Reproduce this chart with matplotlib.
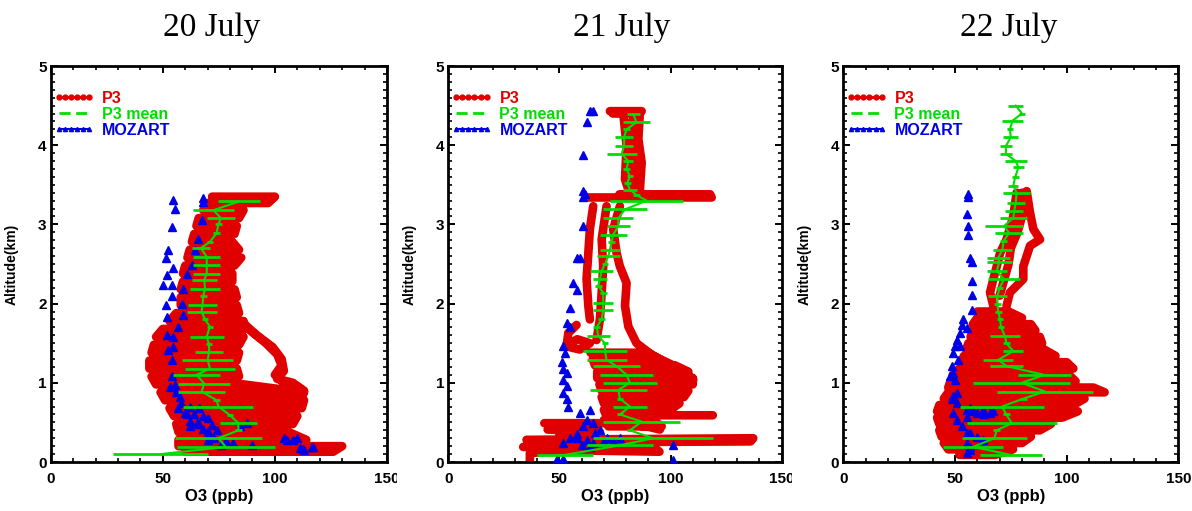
import numpy as np
import matplotlib
matplotlib.use("Agg")
import matplotlib.pyplot as plt
from matplotlib.lines import Line2D
from matplotlib.transforms import Bbox, TransformedBbox

nan = np.nan

RED = "#e00000"
GREEN = "#00dd00"
BLUE = "#0000e6"

days = ["20 July", "21 July", "22 July"]

# ---- 20 July ----
p3_o3_jul20 = [72, 100, 97, 70, 68, 86, 84, 66, 65, 83, 82, 64, 63, 81, 84, 62, 61, 85,
               82, 60, 59, 81, 81, 59, 58, 82, 83, 58, 58, 83, 84, 56, 53, 86, 87, 50,
               47, 86, 84, 46, 45, 84, 83, 44, 44, 83, 84, 45, 47, 86, 113, 49, 51, 113,
               112, 53, 55, 110, 108, 56, 57, 106, 114, 57, 57, 130, 126, 60,
               nan, 86, 92, 99, 103, 104, 101, 108, 113, 112,
               nan, 89, 96, 101, 103, 100, 104]
p3_alt_jul20 = [3.35, 3.35, 3.27, 3.27, 3.18, 3.18, 3.08, 3.08, 2.98, 2.98, 2.88, 2.88,
                2.78, 2.78, 2.68, 2.68, 2.58, 2.58, 2.48, 2.48, 2.38, 2.38, 2.28, 2.28,
                2.18, 2.18, 2.08, 2.08, 1.98, 1.98, 1.88, 1.88, 1.78, 1.78, 1.68, 1.68,
                1.58, 1.58, 1.48, 1.48, 1.38, 1.38, 1.28, 1.28, 1.18, 1.18, 1.08, 1.08,
                0.98, 0.98, 0.88, 0.88, 0.78, 0.78, 0.68, 0.68, 0.58, 0.58, 0.48, 0.48,
                0.38, 0.38, 0.28, 0.28, 0.20, 0.20, 0.13, 0.13,
                nan, 1.75, 1.60, 1.45, 1.30, 1.15, 1.05, 1.00, 0.90, 0.80,
                nan, 1.66, 1.50, 1.36, 1.22, 1.10, 1.00]

moz_o3_jul20 = [54.7, 55.4, 54.0, 52.5, 51.4, 54.7, 51.7, 50.2, 54.0, 54.0, 51.4, 51.7,
                51.7, 52.5, 54.0, 54.0, 55.4, 57.7, 56.9, 60.6, 65.1, 62.1, 70.3, 84.4,
                87.4, 70.3, 81.5, 105.3, 109.7, 112.7, 116.4,
                68.1, 68.1, 67.3, 65.8, 64.4, 62.9, 60.6, 59.2, 58.4, 59.2, 56.9, 54.7, 54.7,
                53, 56, 58, 62, 66, 60, 64, 68, 70, 62, 66, 72, 68, 74, 70, 73, 78, 76, 90,
                104, 108, 111, 113, 117]
moz_alt_jul20 = [3.31, 3.20, 2.97, 2.68, 2.57, 2.45, 2.36, 2.23, 2.23, 2.09, 1.98, 1.83,
                 1.60, 1.41, 1.29, 1.08, 0.97, 0.82, 0.68, 0.61, 0.49, 0.45, 0.39, 0.45,
                 0.49, 0.28, 0.24, 0.28, 0.30, 0.17, 0.19,
                 3.33, 3.28, 3.06, 2.82, 2.68, 2.49, 2.38, 2.19, 2.00, 1.85, 1.71, 1.58, 1.45,
                 0.95, 0.88, 0.75, 0.70, 0.68, 0.62, 0.60, 0.58, 0.55, 0.52, 0.48, 0.47, 0.42,
                 0.40, 0.35, 0.30, 0.26, 0.22, 0.22, 0.30, 0.28, 0.18, 0.15, 0.19]

mean_alt_jul20 = [0.10, 0.19, 0.30, 0.40, 0.49, 0.59, 0.70, 0.78, 0.89, 0.99, 1.10, 1.18,
                  1.29, 1.39, 1.49, 1.58, 1.71, 1.80, 1.90, 1.98, 2.09, 2.19, 2.30, 2.38,
                  2.49, 2.59, 2.70, 2.78, 2.89, 3.00, 3.08, 3.18, 3.29]
mean_o3_jul20 = [49.1, 78.1, 74.8, 83.7, 83.7, 80.0, 74.8, 74.0, 67.3, 68.5, 65.1, 71.0,
                 70.0, 70.7, 70.6, 69.6, 71.0, 68.8, 67.3, 67.7, 68.0, 68.8, 68.5, 69.6,
                 69.6, 69.6, 67.0, 71.0, 74.0, 74.8, 75.9, 72.6, 84.1]
mean_sd_jul20 = [21.2, 21.9, 19.4, 1.5, 8.2, 1.5, 15.6, 1.5, 10.4, 11.6, 10.4, 11.0,
                 11.5, 6.3, 1.5, 7.5, 1.5, 1.5, 6.7, 6.3, 1.5, 6.7, 5.5, 6.0,
                 6.0, 6.0, 4.1, 1.5, 1.5, 1.5, 6.3, 9.0, 9.3]

# ---- 21 July ----
p3_o3_jul21 = [72.7, 87.0, 86, 74, nan,
               78.7, 80.2, 79.5, 81.7, nan,
               86.2, 85.5, 87.0, 86.2, nan,
               82.5, 83.2, 84.0, nan,
               62.2, 118.5, 117.8, 77, nan,
               65.2, 63.7, 63.0, 62.2, 63.0, 63.7, nan,
               77.2, 74.2, 75.7, 77.2, 80.2, 79.5, 81.0, 84.7, 92.2, 105.7, 110.2, nan,
               71.2, 69.0, 69.7, 69.0, 68.2, 66.7, nan,
               57.7, 54.0, 53.2, 59.2, 63.7, 58, 55, nan,
               64, 90, 95, 65, 66, 102, 108, 67, 67, 110, 110, 68, 69, 108, 106, 69,
               70, 104, 100, 70, 71, 119, nan,
               70, 92, 96, 72, nan,
               43.2, 71.2, 89.2, 95.2, nan,
               44.7, 68.2, 62, 50, nan,
               35.2, 137.2, 136, 60, nan,
               33.7, 92.2, 95, 50, 36.7, 36.7]
p3_alt_jul21 = [4.43, 4.43, 4.40, 4.40, nan,
                4.41, 3.99, 3.57, 3.38, nan,
                4.41, 4.08, 3.78, 3.44, nan,
                4.30, 3.78, 3.44, nan,
                3.34, 3.34, 3.38, 3.38, nan,
                3.23, 2.94, 2.64, 2.31, 1.97, 1.80, nan,
                3.23, 2.94, 2.64, 2.47, 2.26, 1.97, 1.71, 1.50, 1.34, 1.16, 1.04, nan,
                3.23, 2.81, 2.47, 2.14, 1.80, 1.54, nan,
                1.73, 1.63, 1.46, 1.42, 1.50, 1.55, 1.50, nan,
                1.38, 1.38, 1.30, 1.30, 1.22, 1.22, 1.14, 1.14, 1.06, 1.06, 0.98, 0.98,
                0.90, 0.90, 0.82, 0.82, 0.74, 0.74, 0.66, 0.66, 0.59, 0.59, nan,
                0.53, 0.53, 0.45, 0.45, nan,
                0.49, 0.49, 0.45, 0.41, nan,
                0.41, 0.38, 0.35, 0.36, nan,
                0.28, 0.30, 0.26, 0.25, nan,
                0.19, 0.19, 0.13, 0.15, 0.11, 0.02]

moz_o3_jul21 = [63.7, 65.2, 62.2, 60.7, 60.7, 61.5, 60.7, 60.7, 57.7, 59.2, 56.2, 57.7,
                54.7, 53.3, 54.7, 51.7, 52.5, 51.0, 51.7, 53.3, 51.7, 53.3, 51.7, 53.3,
                54.0, 59.2, 63.7, 62.2, 65.2, 60.7, 68.2, 57.7, 54.7, 62.2, 65.2, 51.7,
                71.2, 77.2, 63.7, 101.2, 48.7, 51.7, 101.2, 58, 66, 70, 74, 60]
moz_alt_jul21 = [4.43, 4.43, 4.29, 3.87, 3.42, 3.38, 3.34, 2.98, 2.58, 2.58, 2.26, 2.17,
                 1.95, 1.75, 1.71, 1.46, 1.38, 1.26, 1.17, 1.13, 1.04, 0.96, 0.87, 0.79,
                 0.70, 0.62, 0.66, 0.53, 0.49, 0.45, 0.41, 0.30, 0.30, 0.28, 0.24, 0.24,
                 0.30, 0.30, 0.19, 0.21, 0.04, 0.04, 0.02, 0.35, 0.36, 0.26, 0.27, 0.22]

mean_alt_jul21 = [0.09, 0.21, 0.30, 0.40, 0.51, 0.60, 0.70, 0.80, 0.91, 1.00, 1.10, 1.21,
                  1.29, 1.40, 1.50, 1.59, 1.70, 1.80, 1.92, 2.01, 2.14, 2.22, 2.31, 2.41,
                  2.50, 2.60, 2.68, 2.78, 2.87, 2.98, 3.08, 3.19, 3.30, 3.37, 3.44, 3.52,
                  3.61, 3.70, 3.80, 3.89, 3.99, 4.10, 4.20, 4.29, 4.39]
mean_o3_jul21 = [52.5, 77.2, 92.2, 81.7, 87.0, 77.2, 81.7, 77.2, 76.5, 81.7, 80.2, 75.7,
                 71.2, 70.5, 70.5, 67.5, 66.7, 69.0, 69.7, 69.7, 69.7, 67.5, 68.2, 69.0,
                 70.5, 72.0, 72.7, 73.5, 74.2, 76.5, 76.5, 79.5, 89.2, 84.7, 81.7, 80.5,
                 81.7, 80.2, 81.0, 78.0, 79.1, 79.1, 80.2, 84.7, 83.2]
mean_sd_jul21 = [12.7, 15.0, 27.0, 1.5, 17.2, 1.5, 7.5, 1.5, 12.7, 12.0, 12.0, 10.5,
                 9.0, 9.7, 1.5, 5.2, 1.5, 1.5, 4.5, 4.5, 1.5, 1.5, 3.0, 5.2,
                 1.5, 5.2, 4.5, 1.5, 6.0, 5.2, 6.7, 9.7, 16.5, 1.5, 3.0, 1.5,
                 1.5, 1.5, 2.3, 6.7, 4.1, 4.1, 1.5, 6.0, 3.0]

# ---- 22 July ----
p3_o3_jul22 = [82.1, 83.6, 85.1, 88.1, 83.6, 80.6, 80.6, 74.6, 73.1, nan,
               77.6, 76.1, 73.1, 70.2, 68.7, 67.2, 65.7, 67.2, nan,
               80, 80, 78, 75, 74, 72, 70, nan,
               60, 74, 80, 60, 58, 84, 86, 58, 57, 88, 89, 56, 55, 90, 95, 54,
               53, 100, 103, 52, 49, 101, 104, 48, 47, 112, 117, 47, 45, 108, 103, 43,
               42, 105, 98, 42, 43, 93, 88, 43, 44, 84, 80, 45, 47, 76, 68, 52]
p3_alt_jul22 = [3.42, 3.15, 2.94, 2.81, 2.73, 2.47, 2.31, 2.14, 1.97, nan,
                3.40, 3.10, 2.81, 2.64, 2.47, 2.31, 2.14, 1.97, nan,
                3.40, 3.10, 2.90, 2.70, 2.50, 2.30, 2.10, nan,
                1.90, 1.90, 1.82, 1.82, 1.74, 1.74, 1.66, 1.66, 1.58, 1.58, 1.50, 1.50,
                1.42, 1.42, 1.34, 1.34, 1.26, 1.26, 1.18, 1.18, 1.10, 1.10, 1.02, 1.02,
                0.94, 0.94, 0.88, 0.88, 0.80, 0.80, 0.72, 0.72, 0.64, 0.64, 0.56, 0.56,
                0.48, 0.48, 0.40, 0.40, 0.32, 0.32, 0.24, 0.24, 0.16, 0.16, 0.09, 0.09]

moz_o3_jul22 = [56.0, 56.0, 55.2, 56.0, 56.0, 56.7, 57.5, 57.5, 57.5, 57.5,
                53.7, 53.0, 55.2, 52.3, 50.8, 50.0, 52.3, 49.3, 51.5, 48.5, 49.3, 50.0,
                47.8, 50.8, 49.3, 48.5, 50.8, 55.2, 56.7, 62.7, 65.7, 55.2, 49.3, 50.8,
                53.0, 55.2, 56.7, 59.7, 62.7, 55.2, 56.7, 55.2, 56.7, 58, 60, 63, 67]
moz_alt_jul22 = [3.38, 3.34, 3.13, 2.98, 2.87, 2.58, 2.53, 2.28, 2.11, 1.92,
                 1.80, 1.73, 1.69, 1.63, 1.54, 1.46, 1.46, 1.38, 1.29, 1.21, 1.12, 1.04,
                 1.08, 0.87, 0.83, 0.79, 0.74, 0.66, 0.68, 0.66, 0.62, 0.57, 0.62, 0.53,
                 0.45, 0.36, 0.36, 0.32, 0.28, 0.24, 0.15, 0.11, 0.19, 0.64, 0.62, 0.60, 0.64]

mean_alt_jul22 = [0.09, 0.19, 0.30, 0.40, 0.49, 0.60, 0.70, 0.80, 0.89, 1.00, 1.10, 1.21,
                  1.29, 1.40, 1.50, 1.59, 1.70, 1.80, 1.90, 2.00, 2.09, 2.20, 2.31, 2.41,
                  2.52, 2.58, 2.68, 2.79, 2.89, 2.98, 3.08, 3.17, 3.27, 3.40, 3.49, 3.60,
                  3.72, 3.80, 3.89, 3.99, 4.10, 4.20, 4.31, 4.40, 4.50]
mean_o3_jul22 = [75.0, 58.2, 67.6, 68.7, 75.4, 73.0, 71.0, 80.6, 90.3, 79.9, 90.0, 73.1,
                 69.4, 76.1, 73.0, 72.4, 70.6, 70.2, 69.4, 69.0, 69.0, 70.0, 72.0, 68.7,
                 69.8, 69.4, 71.3, 71.7, 74.3, 72.0, 76.1, 76.5, 77.2, 77.6, 76.1, 77.0,
                 78.4, 77.2, 72.8, 72.8, 75.0, 74.6, 75.8, 80.0, 77.2]
mean_sd_jul22 = [13.8, 13.5, 14.6, 1.5, 20.2, 1.5, 18.7, 1.5, 21.7, 21.7, 12.0, 7.5,
                 6.7, 4.5, 1.5, 6.7, 1.5, 1.5, 1.5, 1.5, 4.1, 1.5, 7.0, 4.5,
                 5.6, 5.2, 4.1, 1.5, 6.3, 8.6, 6.0, 4.1, 4.1, 6.0, 2.3, 1.5,
                 2.3, 4.9, 2.6, 2.6, 3.4, 1.5, 4.8, 1.5, 3.4]

x_ticks = [0, 50, 100, 150]
y_ticks = [0, 1, 2, 3, 4, 5]

plt.rcParams["font.family"] = ["Liberation Sans", "DejaVu Sans"]
plt.rcParams["font.weight"] = "bold"
plt.rcParams["axes.labelweight"] = "bold"

W, H = 1192, 511
fig = plt.figure(figsize=(W / 100, H / 100), dpi=100)

# panel frames in pixels: left, right
frames = [(50.7, 387.0), (448.3, 781.7), (843.3, 1178.3)]
title_x = [212, 622, 1009]
bottom_px, top_px = 462, 66

data = [
    (p3_o3_jul20, p3_alt_jul20, moz_o3_jul20, moz_alt_jul20, mean_alt_jul20, mean_o3_jul20, mean_sd_jul20),
    (p3_o3_jul21, p3_alt_jul21, moz_o3_jul21, moz_alt_jul21, mean_alt_jul21, mean_o3_jul21, mean_sd_jul21),
    (p3_o3_jul22, p3_alt_jul22, moz_o3_jul22, moz_alt_jul22, mean_alt_jul22, mean_o3_jul22, mean_sd_jul22),
]

for i, (day, (left, right), tx, d) in enumerate(zip(days, frames, title_x, data)):
    p3_o3, p3_alt, moz_o3, moz_alt, m_alt, m_o3, m_sd = d
    ax = fig.add_axes([left / W, (H - bottom_px) / H, (right - left) / W, (bottom_px - top_px) / H])

    ax.plot(p3_o3, p3_alt, color=RED, lw=6.2, solid_capstyle="round",
            solid_joinstyle="round", zorder=2)
    ax.plot(moz_o3, moz_alt, ls="none", marker="^", ms=6, color=BLUE, zorder=3)
    ax.plot(m_o3, m_alt, color=GREEN, lw=1.5, zorder=4)
    ax.errorbar(m_o3, m_alt, xerr=m_sd, fmt="none", ecolor=GREEN, elinewidth=2,
                capsize=0, zorder=4)

    ax.set_xlim(0, 150)
    ax.set_ylim(0, 5)
    ax.set_xticks(x_ticks)
    ax.set_yticks(y_ticks)
    ax.set_xticks(np.arange(0, 151, 10), minor=True)
    ax.set_yticks(np.arange(0, 5.01, 0.1), minor=True)
    ax.tick_params(which="both", direction="in", top=True, right=True, labelsize=11)
    ax.tick_params(which="major", length=5, width=1.4)
    ax.tick_params(which="minor", length=3, width=1.2)
    ax.tick_params(axis="x", pad=7)
    ax.tick_params(axis="y", pad=3)
    for sp in ax.spines.values():
        sp.set_linewidth(2.0)

    ax.set_xlabel("O3 (ppb)", fontsize=12, labelpad=2)
    ax.set_ylabel("Altitude(km)", fontsize=10, labelpad=14)

    handles = [
        Line2D([], [], color=RED, lw=2, marker="o", ms=3.5, ls="-"),
        Line2D([], [], color=GREEN, lw=2, ls="--", dashes=(4, 2)),
        Line2D([], [], color=BLUE, lw=1.5, marker="^", ms=3, ls="-"),
    ]
    ax.legend(handles, ["P3", "P3 mean", "MOZART"], loc="upper left",
              bbox_to_anchor=(0.0, 0.945), frameon=False, fontsize=11.5,
              labelcolor="linecolor", handlelength=2.5, handletextpad=0.5,
              labelspacing=0.05, borderaxespad=0, borderpad=0.2, numpoints=6)

    # the rightmost x label is cut just past the frame
    if i < 2:
        lab = ax.xaxis.get_major_ticks()[-1].label1
        lab.set_clip_on(True)
        lab.set_clip_box(TransformedBbox(Bbox.from_extents(0, 0, (right + 10) / W, 1),
                                         fig.transFigure))

    fig.text(tx / W, 1 - 28 / H, day, ha="center", va="center",
             fontsize=24, family="Liberation Serif", weight="normal")

fig.savefig("out.png", dpi=100)
